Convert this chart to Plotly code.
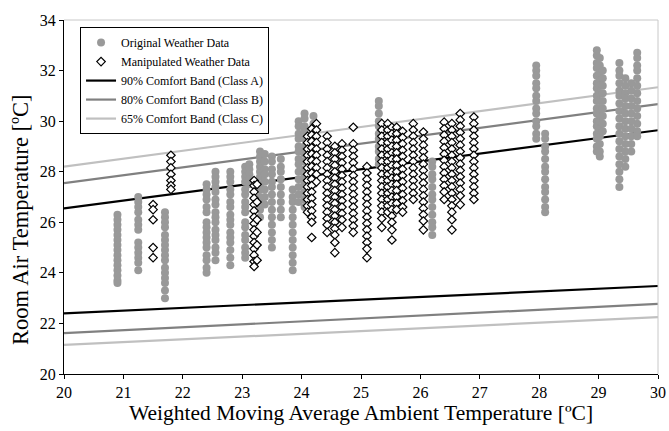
import plotly.graph_objects as go

# Comfort band limits (room air temperature) at the ends of the x range
band_x = [20, 30]
class_a_upper = [26.55, 29.64]
class_a_lower = [22.40, 23.48]
class_b_upper = [27.55, 30.67]
class_b_lower = [21.62, 22.77]
class_c_upper = [28.20, 31.34]
class_c_lower = [21.15, 22.25]

# Original weather data: ambient temperature per column and measured room temperatures
orig_x = [20.9, 21.25, 21.7, 22.4, 22.55, 22.8, 23.05, 23.12, 23.3, 23.38, 23.5, 23.65,
          23.85, 23.95, 24.05, 24.2, 25.3, 26.2, 27.95, 28.1, 28.97, 29.02, 29.07,
          29.35, 29.45, 29.55, 29.65]
orig_y = [
    [26.3, 26.1, 25.9, 25.7, 25.5, 25.3, 25.1, 24.9, 24.7, 24.5, 24.3, 24.1, 23.9, 23.7, 23.6],
    [27.0, 26.8, 26.6, 26.4, 26.1, 25.9, 25.7, 25.2, 25.0, 24.8, 24.6, 24.4, 24.1],
    [26.4, 26.2, 26.0, 25.8, 25.5, 25.3, 25.1, 24.9, 24.7, 24.5, 24.2, 24.0, 23.8, 23.6, 23.3, 23.0],
    [27.5, 27.3, 27.1, 26.9, 26.6, 26.4, 26.0, 25.8, 25.6, 25.4, 25.2, 25.0, 24.7, 24.5, 24.2, 24.0],
    [28.0, 27.8, 27.6, 27.4, 27.2, 26.9, 26.7, 26.4, 26.2, 26.0, 25.7, 25.5, 25.3, 25.0, 24.8, 24.5],
    [28.0, 27.8, 27.6, 27.3, 27.1, 26.8, 26.6, 26.3, 26.1, 25.9, 25.6, 25.4, 25.2, 24.9, 24.6, 24.3],
    [28.2, 28.0, 27.8, 27.6, 27.3, 27.1, 26.8, 26.6, 26.4, 26.0, 25.8, 25.5, 25.3, 25.0, 24.8, 24.6],
    [28.3, 28.1, 27.9, 27.7, 27.5],
    [28.8, 28.6, 28.4, 28.2, 28.0, 27.8, 27.5, 27.3, 27.0, 26.8, 26.5, 26.2],
    [28.7, 28.4, 28.1, 27.9, 27.6, 27.3, 27.0, 26.7],
    [28.6, 28.4, 28.1, 27.9, 27.6, 27.4, 27.1, 26.8, 26.5, 26.2, 25.9, 25.6, 25.3, 25.0],
    [28.5, 28.2, 28.0, 27.7, 27.4, 27.1, 26.8, 26.5, 26.2],
    [27.3, 27.0, 26.8, 26.5, 26.2, 25.9, 25.6, 25.3, 25.0, 24.7, 24.4, 24.1],
    [30.0, 29.8, 29.5, 29.3, 29.0, 28.8, 28.5, 28.3, 28.0, 27.7, 27.4, 27.1, 26.8],
    [30.3, 30.1, 29.8, 29.6, 29.3, 29.0, 28.7, 28.4, 28.1, 27.8, 27.5, 27.2, 26.9, 26.6],
    [30.2, 29.9, 29.6, 29.3, 29.0, 28.7, 28.4, 28.1, 27.8, 27.5],
    [30.8, 30.6, 30.3, 30.0, 29.8, 29.5, 29.3, 29.0, 28.8, 28.5, 28.3],
    [28.4, 28.2, 27.9, 27.7, 27.4, 27.1, 26.9, 26.6, 26.3, 26.0, 25.8, 25.5],
    [32.2, 32.0, 31.8, 31.5, 31.3, 31.0, 30.8, 30.5, 30.3, 30.0, 29.8, 29.5, 29.3],
    [29.5, 29.3, 29.0, 28.8, 28.5, 28.2, 28.0, 27.7, 27.4, 27.2, 26.9, 26.6, 26.4],
    [32.8, 32.6, 32.3, 32.1, 31.8, 31.5, 31.3, 31.0, 30.8, 30.5, 30.3, 30.0, 29.8, 29.5, 29.3, 29.0, 28.8],
    [32.5, 32.2, 31.9, 31.6, 31.4, 31.1, 30.8, 30.5, 30.2, 30.0, 29.7, 29.4, 29.1, 28.8, 28.6],
    [32.0, 31.7, 31.4, 31.1, 30.8, 30.5, 30.2, 29.9, 29.6],
    [32.3, 32.0, 31.8, 31.5, 31.2, 31.0, 30.7, 30.4, 30.1, 29.8, 29.5, 29.2, 28.9, 28.6, 28.3, 28.0, 27.7, 27.4],
    [31.7, 31.4, 31.1, 30.9, 30.6, 30.3, 30.0, 29.7, 29.4, 29.1, 28.8, 28.5, 28.2],
    [31.5, 31.2, 30.9, 30.6, 30.3, 30.0, 29.7, 29.4, 29.1, 28.8],
    [32.7, 32.5, 32.2, 32.0, 31.7, 31.4, 31.1, 30.8, 30.5, 30.2, 29.9, 29.6, 29.4],
]

# Manipulated weather data: ambient temperature per column and room temperatures
manip_x = [21.5, 21.8, 23.2, 23.25, 24.1, 24.17, 24.25, 24.43, 24.56, 24.68, 24.87,
           25.1, 25.35, 25.45, 25.52, 25.6, 25.7, 25.88, 26.05, 26.4, 26.53, 26.67, 26.9]
manip_y = [
    [26.7, 26.5, 26.1, 25.0, 24.6],
    [28.65, 28.4, 28.15, 27.9, 27.65, 27.45, 27.3],
    [27.65, 27.45, 27.2, 26.95, 26.7, 26.45, 26.2, 25.95, 25.7, 25.45, 25.2, 24.95, 24.7, 24.45, 24.25],
    [27.5, 26.8, 26.1, 25.6, 25.1, 24.5],
    [29.4, 29.15, 28.9, 28.65, 28.4, 28.15, 27.9, 27.65, 27.4, 27.15, 26.9, 26.65, 26.4],
    [29.7, 29.45, 29.2, 28.95, 28.7, 28.45, 28.2, 27.95, 27.7, 27.45, 27.2, 26.95, 26.7, 26.45, 26.2, 26.0, 25.4],
    [29.9, 29.65, 29.4, 29.15, 28.9, 28.65, 28.4, 28.15, 27.9, 27.6],
    [29.4, 29.15, 28.9, 28.65, 28.4, 28.15, 27.9, 27.65, 27.4, 27.15, 26.9, 26.65, 26.4, 26.15, 25.9, 25.6],
    [29.0, 28.75, 28.5, 28.25, 28.0, 27.75, 27.5, 27.25, 27.0, 26.75, 26.5, 26.25, 26.0, 25.75, 25.5, 25.2, 24.8],
    [29.1, 28.85, 28.6, 28.35, 28.1, 27.85, 27.6, 27.35, 27.1, 26.85, 26.6, 26.35, 26.1, 25.8],
    [29.76, 29.1, 28.85, 28.6, 28.35, 28.1, 27.85, 27.6, 27.35, 27.1, 26.85, 26.6, 26.35, 26.1, 25.85, 25.6],
    [28.2, 27.95, 27.7, 27.45, 27.2, 26.95, 26.7, 26.45, 26.2, 25.95, 25.7, 25.45, 25.2, 24.95, 24.6],
    [29.9, 29.65, 29.4, 29.15, 28.9, 28.65, 28.4, 28.15, 27.9, 27.65, 27.4, 27.15, 26.9, 26.65, 26.4, 26.15, 25.8],
    [29.9, 29.65, 29.4, 29.15, 28.9, 28.65, 28.4, 28.15, 27.9, 27.65, 27.4, 27.15, 26.9, 26.65, 26.4],
    [29.76, 29.5, 29.25, 29.0, 28.75, 28.5, 28.25, 28.0, 27.75, 27.5, 27.25, 27.0, 26.75, 26.5, 26.25, 26.0, 25.7, 25.3],
    [29.76, 29.5, 29.25, 29.0, 28.75, 28.5, 28.25, 28.0, 27.75, 27.5, 27.25, 27.0, 26.75, 26.5],
    [29.6, 29.35, 29.1, 28.85, 28.6, 28.35, 28.1, 27.85, 27.6, 27.35, 27.1, 26.85, 26.6, 26.4],
    [29.9, 29.65, 29.4, 29.15, 28.9, 28.65, 28.4, 28.15, 27.9, 27.65, 27.4, 27.15, 26.9],
    [29.57, 29.3, 29.05, 28.8, 28.55, 28.3, 28.05, 27.8, 27.55, 27.3, 27.05, 26.8, 26.55, 26.3, 26.05, 25.7],
    [29.96, 29.7, 29.45, 29.2, 28.95, 28.7, 28.45, 28.2, 27.95, 27.7, 27.45, 27.2, 26.9],
    [29.9, 29.65, 29.4, 29.15, 28.9, 28.65, 28.4, 28.15, 27.9, 27.65, 27.4, 27.15, 26.9, 26.65, 26.4, 26.1, 25.7],
    [30.3, 30.05, 29.8, 29.55, 29.3, 29.05, 28.8, 28.55, 28.3, 28.05, 27.8, 27.55, 27.3, 27.05, 26.7],
    [30.16, 29.9, 29.65, 29.4, 29.15, 28.9, 28.65, 28.4, 28.15, 27.9, 27.65, 27.4, 27.15, 26.9],
]

legend_names = [
    "Original Weather Data",
    "Manipulated Weather Data",
    "90% Comfort Band (Class A)",
    "80% Comfort Band (Class B)",
    "65% Comfort Band (Class C)",
]


def flatten(xs, ys):
    fx, fy = [], []
    for x, col in zip(xs, ys):
        fx.extend([x] * len(col))
        fy.extend(col)
    return fx, fy


ox, oy = flatten(orig_x, orig_y)
mx, my = flatten(manip_x, manip_y)

FONT = "Liberation Serif"
fig = go.Figure()

# Comfort band lines first so the data markers sit on top of them
bands = [
    (legend_names[2], class_a_upper, class_a_lower, "#000000", 3),
    (legend_names[3], class_b_upper, class_b_lower, "#808080", 4),
    (legend_names[4], class_c_upper, class_c_lower, "#c0c0c0", 5),
]
for name, up, lo, col, rank in bands:
    fig.add_trace(go.Scatter(x=band_x, y=up, mode="lines", name=name, legendrank=rank,
                             line=dict(color=col, width=2.2)))
    fig.add_trace(go.Scatter(x=band_x, y=lo, mode="lines", name=name,
                             showlegend=False, line=dict(color=col, width=2.2)))

fig.add_trace(go.Scatter(
    x=ox, y=oy, mode="markers", name=legend_names[0], legendrank=1,
    marker=dict(symbol="circle", size=8, color="#999999", line=dict(width=0)),
))

fig.add_trace(go.Scatter(
    x=mx, y=my, mode="markers", name=legend_names[1], legendrank=2,
    marker=dict(symbol="diamond", size=6.5, color="white",
                line=dict(color="black", width=1.2)),
))

fig.update_layout(
    width=669, height=431,
    margin=dict(l=64, r=11, t=20, b=57, autoexpand=False),
    paper_bgcolor="white", plot_bgcolor="white",
    font=dict(family=FONT, color="black"),
    showlegend=True,
    legend=dict(
        x=0.027, y=0.98, xanchor="left", yanchor="top",
        bgcolor="white", bordercolor="black", borderwidth=1,
        font=dict(family=FONT, size=12, color="black"),
        traceorder="normal",
        itemwidth=30,
    ),
    xaxis=dict(
        range=[20, 30], dtick=1, tick0=20,
        showgrid=False, zeroline=False, automargin=False,
        showline=True, linecolor="black", linewidth=1,
        ticks="outside", ticklen=4, tickcolor="black",
        tickfont=dict(family=FONT, size=16),
        title=dict(text="Weighted Moving Average Ambient Temperature [ºC]",
                   font=dict(family=FONT, size=21.5), standoff=2),
    ),
    yaxis=dict(
        range=[20, 34], dtick=2, tick0=20,
        showgrid=False, zeroline=False, automargin=False,
        showline=True, linecolor="black", linewidth=1,
        ticks="outside", ticklen=4, tickcolor="black",
        tickfont=dict(family=FONT, size=16),
    ),
)

# Vertical axis title, sitting a little below the middle of the axis
fig.add_annotation(
    text="Room Air Temperature [ºC]", textangle=-90,
    xref="paper", yref="paper", x=-0.074, y=0.435,
    xanchor="center", yanchor="middle", showarrow=False,
    font=dict(family=FONT, size=22.5, color="black"),
)

# Light frame on the top and right edges of the plot area
fig.add_shape(type="line", xref="paper", yref="paper", x0=0, x1=1, y0=1, y1=1,
              line=dict(color="#c8c8c8", width=1))
fig.add_shape(type="line", xref="paper", yref="paper", x0=1, x1=1, y0=0, y1=1,
              line=dict(color="#c8c8c8", width=1))

fig.write_html("out.html")
